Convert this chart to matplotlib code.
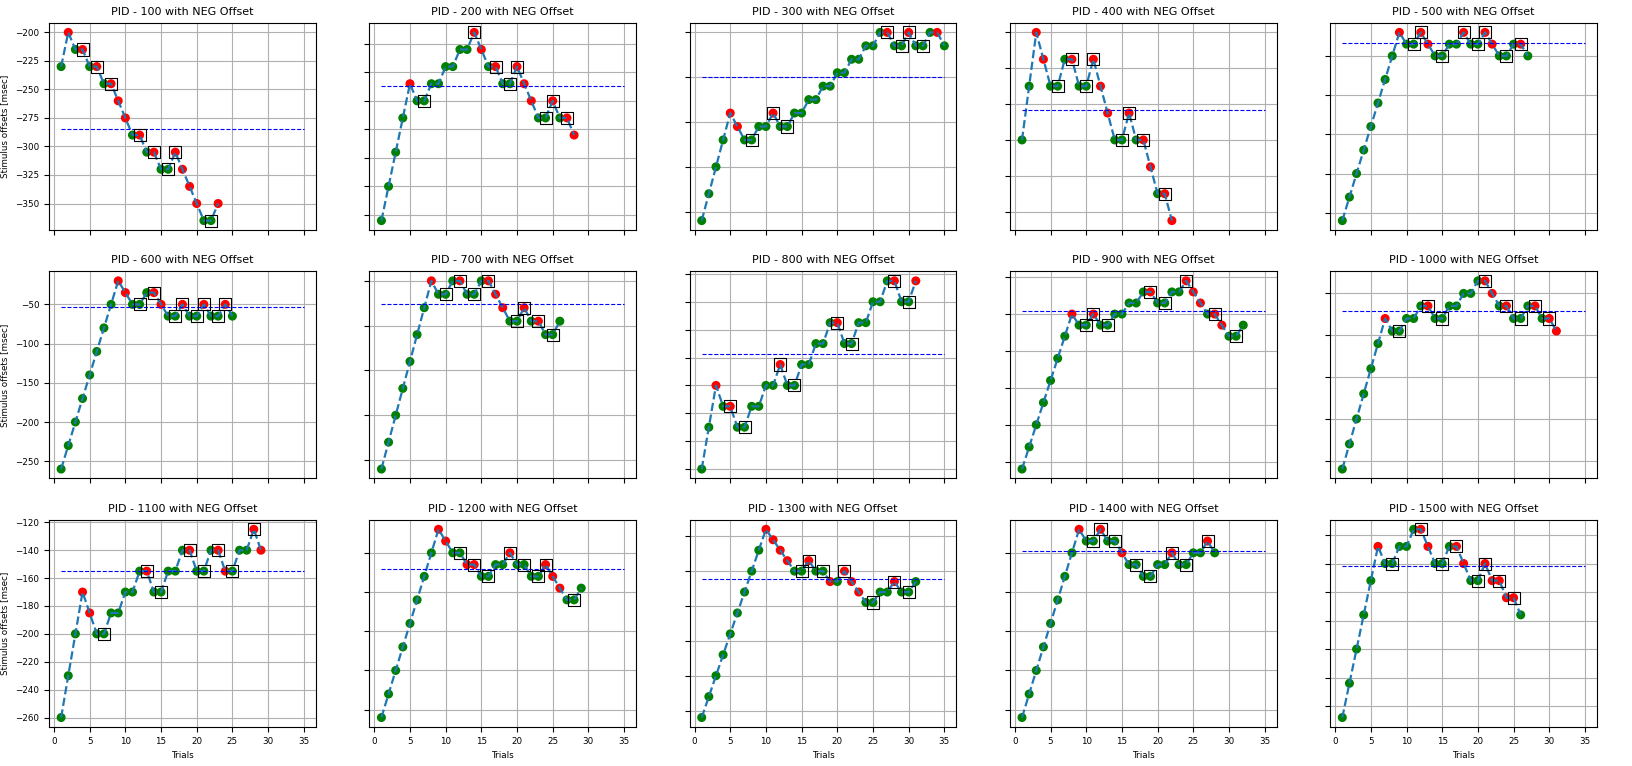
import matplotlib.pyplot as plt
import numpy as np

# PID numbers, one panel each (3 rows x 5 columns)
pids = [100, 200, 300, 400, 500, 600, 700, 800, 900, 1000, 1100, 1200, 1300, 1400, 1500]

# stimulus offsets per trial (trial 1..N), trials answered red, trials marked with a box
off_100 = [-230, -200, -215, -215, -230, -230, -245, -245, -260, -275, -290, -290, -305, -305, -320,
           -320, -305, -320, -335, -350, -365, -365, -350]
red_100 = [2, 4, 6, 8, 9, 10, 12, 14, 17, 18, 19, 20, 23]
box_100 = [4, 6, 8, 12, 14, 16, 17, 22]

off_200 = [-355, -325, -295, -265, -235, -250, -250, -235, -235, -220, -220, -205, -205, -190, -205,
           -220, -220, -235, -235, -220, -235, -250, -265, -265, -250, -265, -265, -280]
red_200 = [5, 14, 15, 17, 20, 21, 22, 25, 27, 28]
box_200 = [7, 14, 17, 19, 20, 24, 25, 27]

off_300 = [-260, -230, -200, -170, -140, -155, -170, -170, -155, -155, -140, -155, -155, -140, -140,
           -125, -125, -110, -110, -95, -95, -80, -80, -65, -65, -50, -50, -65, -65, -50, -65, -65,
           -50, -50, -65]
red_300 = [5, 6, 11, 27, 30, 34]
box_300 = [8, 11, 13, 27, 29, 30, 32]

off_400 = [-260, -230, -200, -215, -230, -230, -215, -215, -230, -230, -215, -230, -245, -260, -260,
           -245, -260, -260, -275, -290, -290, -305]
red_400 = [3, 4, 8, 11, 12, 13, 16, 18, 19, 21, 22]
box_400 = [6, 8, 10, 11, 15, 16, 18, 21]

off_500 = [-260, -230, -200, -170, -140, -110, -80, -50, -20, -35, -35, -20, -35, -50, -50, -35, -35,
           -20, -35, -35, -20, -35, -50, -50, -35, -35, -50]
red_500 = [9, 12, 13, 18, 21, 22, 26]
box_500 = [11, 12, 15, 18, 20, 21, 24, 26]

off_600 = [-260, -230, -200, -170, -140, -110, -80, -50, -20, -35, -50, -50, -35, -35, -50, -65, -65,
           -50, -65, -65, -50, -65, -65, -50, -65]
red_600 = [9, 10, 14, 15, 18, 21, 24]
box_600 = [12, 14, 17, 18, 20, 21, 23, 24]

off_700 = [-260, -230, -200, -170, -140, -110, -80, -50, -65, -65, -50, -50, -65, -65, -50, -50, -65,
           -80, -95, -95, -80, -95, -95, -110, -110, -95]
red_700 = [8, 12, 16, 17, 18, 21, 23]
box_700 = [10, 12, 14, 16, 20, 21, 23, 25]

off_800 = [-260, -230, -200, -215, -215, -230, -230, -215, -215, -200, -200, -185, -200, -200, -185,
           -185, -170, -170, -155, -155, -170, -170, -155, -155, -140, -140, -125, -125, -140, -140, -125]
red_800 = [3, 5, 12, 20, 28, 31]
box_800 = [5, 7, 12, 14, 20, 22, 28, 30]

off_900 = [-260, -230, -200, -170, -140, -110, -80, -50, -65, -65, -50, -65, -65, -50, -50, -35, -35,
           -20, -20, -35, -35, -20, -20, -5, -20, -35, -50, -50, -65, -80, -80, -65]
red_900 = [8, 11, 19, 24, 25, 26, 28, 29]
box_900 = [10, 11, 13, 19, 21, 24, 28, 31]

off_1000 = [-260, -230, -200, -170, -140, -110, -80, -95, -95, -80, -80, -65, -65, -80, -80, -65, -65,
            -50, -50, -35, -35, -50, -65, -65, -80, -80, -65, -65, -80, -80, -95]
red_1000 = [7, 13, 21, 22, 24, 28, 30, 31]
box_1000 = [9, 13, 15, 21, 24, 26, 28, 30]

off_1100 = [-260, -230, -200, -170, -185, -200, -200, -185, -185, -170, -170, -155, -155, -170, -170,
            -155, -155, -140, -140, -155, -155, -140, -140, -155, -155, -140, -140, -125, -140]
red_1100 = [4, 5, 13, 19, 23, 24, 28, 29]
box_1100 = [7, 13, 15, 19, 21, 23, 25, 28]

off_1200 = [-260, -230, -200, -170, -140, -110, -80, -50, -20, -35, -50, -50, -65, -65, -80, -80, -65,
            -65, -50, -65, -65, -80, -80, -65, -80, -95, -110, -110, -95]
red_1200 = [9, 10, 13, 14, 19, 24, 25, 26]
box_1200 = [12, 14, 16, 19, 21, 23, 24, 28]

off_1300 = [-260, -230, -200, -170, -140, -110, -80, -50, -20, 10, -5, -20, -35, -50, -50, -35, -50,
            -50, -65, -65, -50, -65, -80, -95, -95, -80, -80, -65, -80, -80, -65]
red_1300 = [10, 11, 12, 13, 16, 19, 21, 22, 23, 28]
box_1300 = [15, 16, 18, 21, 25, 28, 30]

off_1400 = [-260, -230, -200, -170, -140, -110, -80, -50, -20, -35, -35, -20, -35, -35, -50, -65, -65,
            -80, -80, -65, -65, -50, -65, -65, -50, -50, -35, -50]
red_1400 = [9, 12, 15, 22, 27]
box_1400 = [11, 12, 14, 17, 19, 22, 24, 27]

off_1500 = [-260, -230, -200, -170, -140, -110, -125, -125, -110, -110, -95, -95, -110, -125, -125,
            -110, -110, -125, -140, -140, -125, -140, -140, -155, -155, -170]
red_1500 = [6, 12, 13, 17, 18, 21, 22, 23, 24, 25]
box_1500 = [8, 12, 15, 17, 20, 21, 23, 25]

offsets = [off_100, off_200, off_300, off_400, off_500, off_600, off_700, off_800, off_900, off_1000,
           off_1100, off_1200, off_1300, off_1400, off_1500]
reds = [red_100, red_200, red_300, red_400, red_500, red_600, red_700, red_800, red_900, red_1000,
        red_1100, red_1200, red_1300, red_1400, red_1500]
boxes = [box_100, box_200, box_300, box_400, box_500, box_600, box_700, box_800, box_900, box_1000,
         box_1100, box_1200, box_1300, box_1400, box_1500]

fig = plt.figure(figsize=(16.33, 7.66), dpi=100)
axes = fig.subplots(3, 5, sharex=True)
fig.subplots_adjust(left=0.030, right=0.978, top=0.970, bottom=0.051, wspace=0.2, hspace=0.2)

for i, ax in enumerate(axes.flat):
    y = np.array(offsets[i])
    x = np.arange(1, len(y) + 1)
    colors = ['red' if t in reds[i] else 'green' for t in x]
    bx = np.array(boxes[i])
    by = y[bx - 1]

    ax.scatter(x, y, c=colors, s=30, zorder=2)
    ax.plot(x, y, '--', color='tab:blue', lw=1.6, zorder=3)
    ax.scatter(bx, by, marker='s', s=75, facecolors='none', edgecolors='black', linewidths=0.8, zorder=4)
    # threshold = mean of the boxed (reversal) trials
    ax.hlines(np.mean(by), 1, 35, colors='blue', linestyles='dashed', lw=0.8, zorder=3)

    ax.set_title(f'PID - {pids[i]} with NEG Offset', fontsize=8)
    ax.grid(True)
    ax.tick_params(labelsize=6.3)
    if i % 5 == 0:
        ax.set_ylabel('Stimulus offsets [msec]', fontsize=6.3)
    else:
        ax.tick_params(labelleft=False)
    if i >= 10:
        ax.set_xlabel('Trials', fontsize=6.3)

ax.set_xticks(range(0, 36, 5))

fig.savefig('out.png', dpi=100)
